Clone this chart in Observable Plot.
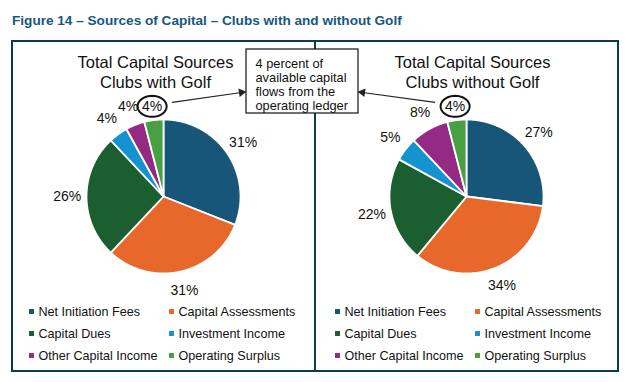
<!DOCTYPE html>
<html><head><meta charset="utf-8">
<script src="https://cdn.jsdelivr.net/npm/d3@7"></script>
<script src="https://cdn.jsdelivr.net/npm/@observablehq/plot@0.6"></script>
<style>
body{margin:0;background:#fff;font-family:"Liberation Sans",Arial,sans-serif;}
#title{height:40px;position:relative;width:628px;}
#title span{position:absolute;left:12px;top:13px;font-weight:bold;font-size:13.6px;color:#17577d;white-space:nowrap;}
</style></head><body>
<div id="title"><span>Figure 14 – Sources of Capital – Clubs with and without Golf</span></div>
<div id="chart"></div>
<script>
// ---- data ----
const categories = ["Net Initiation Fees","Capital Assessments","Capital Dues","Investment Income","Other Capital Income","Operating Surplus"];
const colors = ["#175678","#e8682c","#1b5e30","#1592d0","#952a85","#48a042"];
const withGolf = [31,31,26,4,4,4];
const withoutGolf = [27,34,22,5,8,4];
const panelTitles = ["Total Capital Sources\nClubs with Golf","Total Capital Sources\nClubs without Golf"];
const annotationText = "4 percent of\navailable capital\nflows from the\noperating ledger";
const highlighted = "Operating Surplus";

// ---- layout ----
const panels = [
  {x0:12, x1:315, cx:163, cy:196, r:77, titleX:155, legendX:31, values:withGolf, title:panelTitles[0], side:1},
  {x0:315, x1:618, cx:466, cy:196, r:77, titleX:472, legendX:337, values:withoutGolf, title:panelTitles[1], side:-1}
];
const boxY0 = 41, boxY1 = 371;
const note = {x0:246, x1:358, y0:49, y1:113};

const slicePts = [], labels = [], ellipses = [], arrows = [], legend = [];
panels.forEach((p, pi) => {
  const arcs = d3.pie().sort(null).value(d => d)(p.values);
  arcs.forEach((a, i) => {
    const key = pi + "-" + i;
    slicePts.push({key, cat: categories[i], x: p.cx, y: p.cy});
    const n = Math.max(2, Math.ceil((a.endAngle - a.startAngle) / 0.01));
    for (let k = 0; k <= n; k++) {
      const t = a.startAngle + (a.endAngle - a.startAngle) * k / n;
      slicePts.push({key, cat: categories[i], x: p.cx + p.r * Math.sin(t), y: p.cy - p.r * Math.cos(t)});
    }
    slicePts.push({key, cat: categories[i], x: p.cx, y: p.cy});
    const mid = (a.startAngle + a.endAngle) / 2;
    const isHi = categories[i] === highlighted;
    const f = isHi ? 1.18 : 1.25;
    const lx = p.cx + p.r * f * Math.sin(mid);
    const ly = p.cy - p.r * f * Math.cos(mid);
    labels.push({x: lx, y: ly, text: p.values[i] + "%"});
    if (isHi) {
      for (let k = 0; k <= 60; k++) {
        const t = 2 * Math.PI * k / 60;
        ellipses.push({key: "e" + pi, x: lx + 14.5 * Math.cos(t), y: ly + 10.5 * Math.sin(t)});
      }
      const sx = lx + p.side * 20, sy = ly - 4;
      const ex = p.side > 0 ? note.x0 - 5 : note.x1 + 4;
      const ey = note.y0 + 43;
      arrows.push({x1: sx, y1: sy, x2: ex, y2: ey,
        rot: Math.atan2(ex - sx, -(ey - sy)) * 180 / Math.PI});
    }
  });
  categories.forEach((c, i) => {
    legend.push({cat: c, x: p.legendX + (i % 2) * 140, y: 311 + Math.floor(i / 2) * 22});
  });
});

const chart = Plot.plot({
  width: 628, height: 342, margin: 0,
  x: {domain: [0, 628], range: [0, 628], axis: null},
  y: {domain: [40, 382], range: [0, 342], axis: null},
  color: {domain: categories, range: colors},
  style: {fontFamily: "'Liberation Sans', Arial, sans-serif", background: "white", color: "black"},
  marks: [
    Plot.rect(panels, {x1: "x0", x2: "x1", y1: () => boxY0, y2: () => boxY1, fill: "none", stroke: "#0a3c4a", strokeWidth: 2}),
    Plot.line(slicePts, {x: "x", y: "y", z: "key", fill: "cat", stroke: "white", strokeWidth: 1.8, strokeLinejoin: "round"}),
    Plot.text(panels, {x: "titleX", y: () => 54, text: "title", fontSize: 16.5, lineAnchor: "top", lineHeight: 1.18, fill: "#111"}),
    Plot.text(labels, {x: "x", y: "y", text: "text", fontSize: 14, fill: "#111"}),
    Plot.line(ellipses, {x: "x", y: "y", z: "key", stroke: "#111", strokeWidth: 2}),
    Plot.link(arrows, {x1: "x1", y1: "y1", x2: "x2", y2: "y2", stroke: "#222", strokeWidth: 1.2}),
    Plot.dot(arrows, {x: "x2", y: "y2", symbol: "triangle", r: 3.2, rotate: "rot", fill: "#222", stroke: "none"}),
    Plot.rect([note], {x1: "x0", x2: "x1", y1: "y0", y2: "y1", fill: "white", stroke: "#111", strokeWidth: 1.2}),
    Plot.text([note], {x: d => d.x0 + 9, y: d => d.y0 + 8, text: () => annotationText, textAnchor: "start", lineAnchor: "top", fontSize: 12.8, lineHeight: 1.1, fill: "#111"}),
    Plot.dot(legend, {x: "x", y: "y", symbol: "square", r: 2.8, fill: "cat", stroke: "none"}),
    Plot.text(legend, {x: d => d.x + 7, y: "y", text: "cat", textAnchor: "start", fontSize: 12.6, fill: "#111"})
  ]
});
document.getElementById("chart").appendChild(chart);
</script>
</body></html>
